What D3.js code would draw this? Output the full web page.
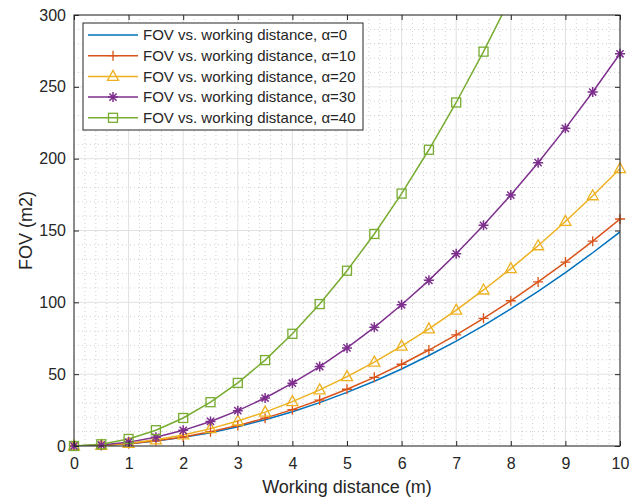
<!DOCTYPE html>
<html>
<head>
<meta charset="utf-8">
<script src="https://cdn.jsdelivr.net/npm/d3@7"></script>
<style>
  body { margin: 0; background: #fff; }
  svg { display: block; font-family: "Liberation Sans", Arial, Helvetica, sans-serif; }
</style>
</head>
<body>
<div id="wrapper"></div>
<script>
// Working distance (m), one point every 0.5 m
const distances = [0, 0.5, 1, 1.5, 2, 2.5, 3, 3.5, 4, 4.5, 5, 5.5, 6, 6.5, 7, 7.5, 8, 8.5, 9, 9.5, 10];

// FOV (m2), per tilt angle
const fovAlpha0  = [0, 0.4, 1.5, 3.4, 6.0, 9.3, 13.4, 18.3, 23.8, 30.2, 37.3, 45.1, 53.6, 63.0, 73.0, 83.8, 95.4, 107.7, 120.7, 134.5, 149.0];
const fovAlpha10 = [0, 0.4, 1.6, 3.6, 6.3, 9.9, 14.2, 19.4, 25.3, 32.0, 39.5, 47.8, 56.9, 66.8, 77.4, 88.9, 101.1, 114.2, 128.0, 142.6, 158.0];
const fovAlpha20 = [0, 0.5, 1.9, 4.3, 7.7, 12.1, 17.4, 23.6, 30.9, 39.1, 48.3, 58.4, 69.5, 81.5, 94.6, 108.6, 123.5, 139.4, 156.3, 174.2, 193.0];
const fovAlpha30 = [0, 0.7, 2.7, 6.1, 10.9, 17.1, 24.6, 33.4, 43.7, 55.3, 68.3, 82.6, 98.3, 115.3, 133.8, 153.6, 174.7, 197.2, 221.1, 246.4, 273.0];
const fovAlpha40 = [0, 1.2, 4.9, 11.0, 19.5, 30.5, 43.9, 59.8, 78.1, 98.8, 122.0, 147.6, 175.7, 206.2, 239.1, 274.5, 312.3, 352.6, 395.3, 440.4, 488.0];

const seriesNames = [
  "FOV vs. working distance, α=0",
  "FOV vs. working distance, α=10",
  "FOV vs. working distance, α=20",
  "FOV vs. working distance, α=30",
  "FOV vs. working distance, α=40",
];
const xTicks = [0, 1, 2, 3, 4, 5, 6, 7, 8, 9, 10];
const yTicks = [0, 50, 100, 150, 200, 250, 300];

const colors = ["#0072BD", "#D95319", "#EDB120", "#7E2F8E", "#77AC30"];
const markers = ["none", "plus", "triangle", "star", "square"];

const series = [fovAlpha0, fovAlpha10, fovAlpha20, fovAlpha30, fovAlpha40].map((vals, i) => ({
  name: seriesNames[i],
  color: colors[i],
  marker: markers[i],
  points: vals.map((v, j) => ({ x: distances[j], y: v })),
}));

let dimensions = {
  width: 639,
  height: 499,
  margins: { top: 15, right: 19, bottom: 53, left: 74 },
};
dimensions.boundedWidth = dimensions.width - dimensions.margins.left - dimensions.margins.right;
dimensions.boundedHeight = dimensions.height - dimensions.margins.top - dimensions.margins.bottom;

const wrapper = d3.select("#wrapper")
  .append("svg")
  .attr("width", dimensions.width)
  .attr("height", dimensions.height);

const bounds = wrapper.append("g")
  .attr("transform", `translate(${dimensions.margins.left},${dimensions.margins.top})`);

const xScale = d3.scaleLinear().domain([0, 10]).range([0, dimensions.boundedWidth]);
const yScale = d3.scaleLinear().domain([0, 300]).range([dimensions.boundedHeight, 0]);

bounds.append("defs").append("clipPath").attr("id", "plot-clip")
  .append("rect")
  .attr("width", dimensions.boundedWidth)
  .attr("height", dimensions.boundedHeight);

// minor grid (dotted)
const xMinor = d3.range(0, 10.001, 0.2).filter(v => Math.abs(v - Math.round(v)) > 1e-6);
const yMinor = d3.range(0, 300.1, 10).filter(v => v % 50 !== 0);
bounds.append("g").selectAll("line").data(xMinor).join("line")
  .attr("x1", d => xScale(d)).attr("x2", d => xScale(d))
  .attr("y1", 0).attr("y2", dimensions.boundedHeight)
  .attr("stroke", "#c4c4c4").attr("stroke-width", 0.8).attr("stroke-dasharray", "1,3");
bounds.append("g").selectAll("line").data(yMinor).join("line")
  .attr("x1", 0).attr("x2", dimensions.boundedWidth)
  .attr("y1", d => yScale(d)).attr("y2", d => yScale(d))
  .attr("stroke", "#c4c4c4").attr("stroke-width", 0.8).attr("stroke-dasharray", "1,3");

// major grid
bounds.append("g").selectAll("line").data(xTicks).join("line")
  .attr("x1", d => xScale(d)).attr("x2", d => xScale(d))
  .attr("y1", 0).attr("y2", dimensions.boundedHeight)
  .attr("stroke", "#e1e1e1").attr("stroke-width", 1);
bounds.append("g").selectAll("line").data(yTicks).join("line")
  .attr("x1", 0).attr("x2", dimensions.boundedWidth)
  .attr("y1", d => yScale(d)).attr("y2", d => yScale(d))
  .attr("stroke", "#e1e1e1").attr("stroke-width", 1);

// marker drawing
const drawMarker = (sel, type, color) => {
  if (type === "plus") {
    sel.append("path").attr("d", "M-5,0H5M0,-5V5")
      .attr("stroke", color).attr("stroke-width", 1.3).attr("fill", "none");
  } else if (type === "triangle") {
    sel.append("path").attr("d", "M0,-6L5.5,4L-5.5,4Z")
      .attr("stroke", color).attr("stroke-width", 1.3).attr("fill", "none");
  } else if (type === "star") {
    sel.append("path").attr("d", "M-5,0H5M0,-5V5M-3.6,-3.6L3.6,3.6M-3.6,3.6L3.6,-3.6")
      .attr("stroke", color).attr("stroke-width", 1.5).attr("fill", "none");
  } else if (type === "square") {
    sel.append("rect").attr("x", -4.5).attr("y", -4.5).attr("width", 9).attr("height", 9)
      .attr("stroke", color).attr("stroke-width", 1.3).attr("fill", "none");
  }
};

const lineGenerator = d3.line()
  .x(d => xScale(d.x))
  .y(d => yScale(d.y));

const plot = bounds.append("g").attr("clip-path", "url(#plot-clip)");
series.forEach(s => {
  plot.append("path")
    .attr("d", lineGenerator(s.points))
    .attr("fill", "none")
    .attr("stroke", s.color)
    .attr("stroke-width", 1.5);
});
// markers are not clipped at the edges, only points beyond the y range are dropped
const markerLayer = bounds.append("g");
series.forEach(s => {
  if (s.marker === "none") return;
  markerLayer.append("g").selectAll("g").data(s.points.filter(p => p.y <= yScale.domain()[1])).join("g")
    .attr("transform", d => `translate(${xScale(d.x)},${yScale(d.y)})`)
    .each(function () { drawMarker(d3.select(this), s.marker, s.color); });
});

// axes with inward ticks on all four sides
const styleAxis = g => {
  g.select(".domain").remove();
  g.selectAll(".tick line").attr("stroke", "#262626");
  g.selectAll(".tick text").attr("fill", "#262626").style("font-size", "16px").style("font-family", "inherit");
};
bounds.append("g")
  .attr("transform", `translate(0,${dimensions.boundedHeight})`)
  .call(d3.axisBottom(xScale).tickValues(xTicks).tickSizeInner(-5).tickSizeOuter(0).tickPadding(12))
  .call(styleAxis);
bounds.append("g")
  .call(d3.axisLeft(yScale).tickValues(yTicks).tickSizeInner(-5).tickSizeOuter(0).tickPadding(8))
  .call(styleAxis);
bounds.append("g")
  .call(d3.axisTop(xScale).tickValues(xTicks).tickSizeInner(-5).tickSizeOuter(0).tickFormat(""))
  .call(styleAxis);
bounds.append("g")
  .attr("transform", `translate(${dimensions.boundedWidth},0)`)
  .call(d3.axisRight(yScale).tickValues(yTicks).tickSizeInner(-5).tickSizeOuter(0).tickFormat(""))
  .call(styleAxis);

bounds.append("rect")
  .attr("width", dimensions.boundedWidth)
  .attr("height", dimensions.boundedHeight)
  .attr("fill", "none")
  .attr("stroke", "#262626")
  .attr("stroke-width", 1);

// axis titles
wrapper.append("text")
  .attr("x", dimensions.margins.left + dimensions.boundedWidth / 2)
  .attr("y", 493)
  .attr("text-anchor", "middle")
  .attr("fill", "#262626")
  .style("font-size", "18px")
  .text("Working distance (m)");
wrapper.append("text")
  .attr("transform", `translate(32,${dimensions.margins.top + dimensions.boundedHeight / 2}) rotate(-90)`)
  .attr("text-anchor", "middle")
  .attr("fill", "#262626")
  .style("font-size", "18px")
  .text("FOV (m2)");

// legend
const legend = wrapper.append("g").attr("transform", "translate(83,23)");
legend.append("rect")
  .attr("width", 280).attr("height", 107)
  .attr("fill", "#fff").attr("stroke", "#262626").attr("stroke-width", 1);
series.forEach((s, i) => {
  const row = legend.append("g").attr("transform", `translate(0,${12 + i * 20.7})`);
  row.append("line").attr("x1", 5).attr("x2", 55).attr("y1", 0).attr("y2", 0)
    .attr("stroke", s.color).attr("stroke-width", 1.5);
  const m = row.append("g").attr("transform", "translate(30,0)");
  drawMarker(m, s.marker, s.color);
  row.append("text").attr("x", 60).attr("y", 0).attr("dy", "0.35em")
    .attr("fill", "#262626").style("font-size", "15px").text(s.name);
});
</script>
</body>
</html>
